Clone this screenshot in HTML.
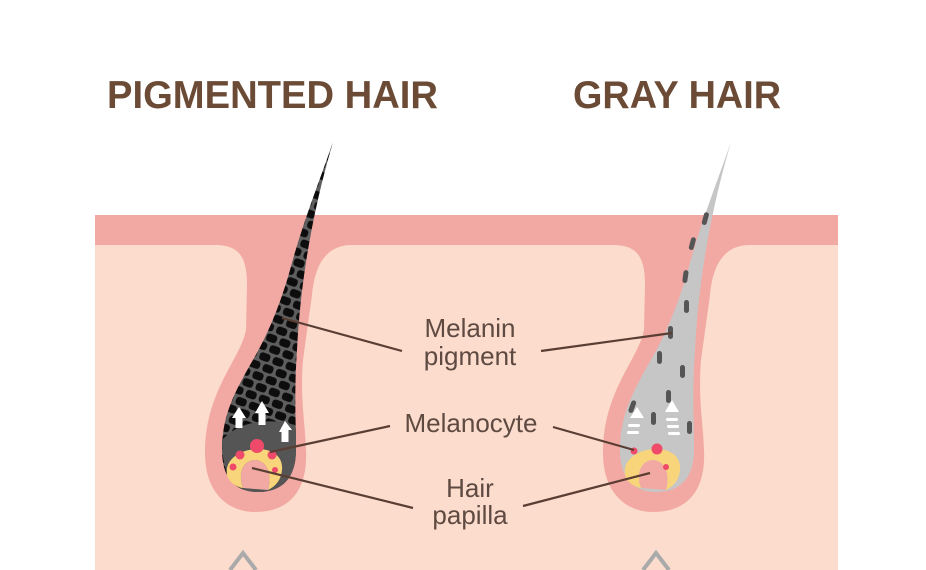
<!DOCTYPE html>
<html><head><meta charset="utf-8"><style>
html,body{margin:0;padding:0;background:#fff;width:926px;height:570px;overflow:hidden}
svg{display:block}
text{font-family:"Liberation Sans","DejaVu Sans",sans-serif}
</style></head><body>
<svg width="926" height="570" viewBox="0 0 926 570" xmlns="http://www.w3.org/2000/svg">
<defs>
<pattern id="cells" width="14" height="20" patternUnits="userSpaceOnUse" patternTransform="rotate(20)">
<rect width="14" height="20" fill="#5e5e5e"/>
<rect x="1.5" y="1" width="11" height="8" rx="3" fill="#0d0d0d"/>
<rect x="-5.5" y="11" width="11" height="8" rx="3" fill="#0d0d0d"/>
<rect x="8.5" y="11" width="11" height="8" rx="3" fill="#0d0d0d"/>
</pattern>
<path id="foll" d="M215,245 C240,245 247,258 247,285 L246,330 C240,360 206,390 205,450 C204,495 230,512 255,512 C290,512 308,490 306,450 C305,420 300,400 303,360 L312,295 C315,262 328,245 352,245 Z"/>
<path id="hair" d="M333,142 C318,185 302,225 290,270 C280,305 268,335 250,365 C235,392 222,415 222,450 C222,478 235,492 258,492 C282,492 296,478 296,450 C296,420 294,395 297,350 C300,290 310,220 333,142 Z"/>
<path id="bulb" d="M222,440 C222,478 235,492 258,492 C282,492 296,478 296,450 C296,440 296,432 295,425 C270,418 240,420 222,440 Z"/>
</defs>
<rect width="926" height="570" fill="#fff"/>
<rect x="95" y="215" width="743" height="355" fill="#fbdccd"/>
<rect x="95" y="215" width="743" height="30" fill="#f2a9a3"/>
<use href="#foll" fill="#f2a9a3"/>
<use href="#foll" fill="#f2a9a3" transform="translate(398,0)"/>
<use href="#hair" fill="url(#cells)"/>
<use href="#bulb" fill="#555"/>
<path d="M232,418 l7,-11 l7,11 h-3.5 v10 h-7 v-10 z" fill="#fff"/>
<path d="M255,413 l7,-12 l7,12 h-3.5 v12 h-7 v-12 z" fill="#fff"/>
<path d="M279,432 l6,-11 l7,9 h-3.5 v12 h-7 v-10 z" fill="#fff"/>
<path d="M227,475 C222,445 285,438 282,470 C281,480 276,486 268,490 C272,475 268,462 256,460 C242,460 238,475 243,488 C236,487 229,482 227,475 Z" fill="#f8d57a"/>
<path d="M243,488 C238,475 242,460 256,460 C268,462 272,475 268,490 Z" fill="#f2a9a3"/>
<circle cx="257" cy="446" r="7" fill="#ef4a6a"/>
<circle cx="240" cy="455" r="4.5" fill="#ef4a6a"/>
<circle cx="272" cy="455" r="4.5" fill="#ef4a6a"/>
<circle cx="233" cy="467" r="3.5" fill="#ef4a6a"/>
<circle cx="275" cy="470" r="3" fill="#ef4a6a"/>
<g transform="translate(398,0)">
<use href="#hair" fill="#c6c6c6"/>
<path d="M232,418 l7,-11 l7,11 z M267,412 l7,-12 l7,12 z" fill="#fff"/>
<g fill="#fff"><rect x="230" y="424" width="12" height="3" rx="1.5"/><rect x="229" y="431" width="12" height="3" rx="1.5"/><rect x="268" y="418" width="12" height="3" rx="1.5"/><rect x="269" y="425" width="12" height="3" rx="1.5"/><rect x="270" y="432" width="12" height="3" rx="1.5"/></g>
<path d="M227,475 C222,445 285,438 282,470 C281,480 276,486 268,490 C272,475 268,462 256,460 C242,460 238,475 243,488 C236,487 229,482 227,475 Z" fill="#f8d57a"/>
<path d="M243,488 C238,475 242,460 256,460 C268,462 272,475 268,490 Z" fill="#f2a9a3"/>
<circle cx="259" cy="449" r="5.5" fill="#ef4a6a"/>
<circle cx="236" cy="451" r="3.5" fill="#ef4a6a"/>
<circle cx="268" cy="467" r="3" fill="#ef4a6a"/>
</g>
<g fill="#555">
<rect x="703" y="212" width="5" height="13" rx="2.5" transform="rotate(15 705 218)"/>
<rect x="690" y="237" width="5" height="13" rx="2.5" transform="rotate(15 692 243)"/>
<rect x="683" y="270" width="5" height="13" rx="2.5" transform="rotate(8 685 276)"/>
<rect x="684" y="300" width="5" height="13" rx="2.5"/>
<rect x="668" y="326" width="5" height="13" rx="2.5"/>
<rect x="657" y="351" width="5" height="13" rx="2.5"/>
<rect x="680" y="365" width="5" height="13" rx="2.5"/>
<rect x="666" y="390" width="5" height="13" rx="2.5"/>
<rect x="630" y="400" width="5" height="13" rx="2.5" transform="rotate(20 632 406)"/>
<rect x="651" y="412" width="5" height="13" rx="2.5"/>
<rect x="687" y="421" width="5" height="13" rx="2.5"/>
</g>
<path d="M230,570 L243,553 L256,570" fill="none" stroke="#aaa" stroke-width="4"/>
<path d="M643,570 L656,553 L669,570" fill="none" stroke="#aaa" stroke-width="4"/>
<g stroke="#5a3e33" stroke-width="2.2">
<line x1="282" y1="318" x2="402" y2="351"/>
<line x1="270" y1="452" x2="390" y2="426"/>
<line x1="252" y1="468" x2="413" y2="508"/>
<line x1="541" y1="351" x2="672" y2="333"/>
<line x1="553" y1="427" x2="634" y2="450"/>
<line x1="523" y1="506" x2="650" y2="473"/>
</g>
<text x="107" y="108" font-size="39" font-weight="bold" fill="#6b4b35" textLength="331" lengthAdjust="spacingAndGlyphs">PIGMENTED HAIR</text>
<text x="573" y="108" font-size="39" font-weight="bold" fill="#6b4b35" textLength="208" lengthAdjust="spacingAndGlyphs">GRAY HAIR</text>
<g font-size="26" fill="#5f4a42" text-anchor="middle">
<text x="470" y="337">Melanin</text>
<text x="470" y="365">pigment</text>
<text x="471" y="432">Melanocyte</text>
<text x="470" y="497">Hair</text>
<text x="470" y="524">papilla</text>
</g>
</svg>
</body></html>
